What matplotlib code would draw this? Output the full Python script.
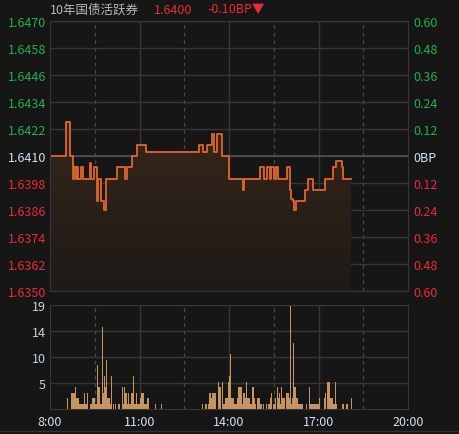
import numpy as np
import matplotlib
matplotlib.use('Agg')
import matplotlib.pyplot as plt
from matplotlib.colors import LinearSegmentedColormap
from matplotlib.lines import Line2D

plt.rcParams['font.family'] = ['Noto Sans CJK SC', 'DejaVu Sans']

# yield of the 10y active bond, minutes after 8:00 where it changes
prev_close = 1.6410
last_price = 1.6400
price_min = [0, 33, 41, 47, 49, 52, 54, 57, 63, 66, 81, 83, 89, 95, 97, 102, 109, 113,
             135, 150, 155, 165, 175, 194, 300, 308, 316, 326, 330, 335, 346, 359, 388,
             391, 423, 431, 437, 442, 445, 451, 455, 459, 477, 482, 485, 488, 491, 494,
             513, 519, 528, 553, 570, 575, 587, 590, 605]
price_yld = [1.6410, 1.6425, 1.6410, 1.6400, 1.6405, 1.6400, 1.6405, 1.6400, 1.6405, 1.6400,
             1.6407, 1.6400, 1.6405, 1.6390, 1.6400, 1.6390, 1.6386, 1.6400, 1.6405, 1.6400,
             1.6405, 1.6410, 1.6415, 1.6412, 1.6415, 1.6412, 1.6415, 1.6420, 1.6412, 1.6420,
             1.6410, 1.6400, 1.6395, 1.6400, 1.6405, 1.6400, 1.6405, 1.6400, 1.6405, 1.6400,
             1.6405, 1.6400, 1.6405, 1.6395, 1.6391, 1.6390, 1.6386, 1.6390, 1.6395, 1.6400,
             1.6395, 1.6400, 1.6405, 1.6408, 1.6405, 1.6400, 1.6400]

# volume runs: first minute, last minute, volume
vol_from = [34, 42, 46, 50, 51, 56, 63, 67, 68, 69, 74, 81, 84, 89, 94, 95, 99, 105, 106, 108,
            109, 113, 114, 119, 123, 126, 131, 136, 144, 146, 148, 151, 155, 156, 157, 163,
            167, 168, 172, 173, 181, 183, 187, 194, 196, 211, 223,
            305, 311, 317, 320, 323, 325, 326, 328, 338, 339, 345, 348, 351, 353, 357, 358,
            361, 362, 363, 369, 373, 377, 378, 385, 389, 390, 394, 395, 400, 402, 404, 407,
            408, 411, 417, 421, 428, 435, 438, 443, 445, 448, 453, 456, 458, 460, 461, 465,
            467, 471, 475, 479, 483, 485, 486, 489, 490, 495, 498, 503, 515, 520, 521, 525,
            530, 535, 540, 551, 553, 557, 563, 567, 573, 575, 588, 596, 605]
vol_to = [34, 44, 49, 50, 55, 60, 63, 67, 68, 73, 74, 83, 88, 93, 94, 98, 104, 105, 107, 108,
          112, 113, 118, 122, 123, 126, 131, 138, 144, 147, 148, 153, 155, 156, 162, 165,
          167, 170, 172, 179, 181, 186, 190, 194, 196, 211, 223,
          305, 313, 317, 322, 324, 325, 327, 332, 338, 341, 345, 349, 351, 356, 357, 360,
          361, 362, 367, 369, 376, 377, 384, 387, 389, 393, 394, 398, 400, 402, 404, 407,
          410, 412, 420, 424, 428, 435, 440, 443, 445, 450, 453, 456, 458, 460, 463, 465,
          470, 471, 478, 481, 483, 485, 488, 489, 493, 497, 501, 506, 515, 520, 523, 528,
          533, 538, 540, 552, 553, 561, 566, 570, 573, 575, 588, 596, 605]
vol_amt = [2, 3, 3, 4, 2, 1, 1, 1, 3, 1, 3, 1, 2, 1, 8, 4, 1, 15, 3, 6,
           4, 9, 2, 1, 6, 1, 1, 1, 4, 1, 4, 3, 1, 3, 1, 3,
           6, 1, 3, 1, 2, 3, 1, 1, 2, 1, 1,
           1, 1, 1, 3, 2, 3, 1, 3, 5, 4, 5, 1, 2, 2, 5, 2,
           6, 10, 2, 1, 1, 2, 4, 1, 3, 2, 5, 2, 2, 1, 1, 4,
           2, 1, 2, 1, 1, 1, 1, 2, 3, 1, 2, 4, 2, 3, 1, 4,
           2, 1, 3, 2, 19, 1, 2, 12, 4, 2, 1, 1, 1, 4, 1, 1,
           1, 1, 2, 2, 3, 5, 2, 1, 5, 1, 1, 1, 2]

yield_ticks = [1.6470, 1.6458, 1.6446, 1.6434, 1.6422, 1.6410,
               1.6398, 1.6386, 1.6374, 1.6362, 1.6350]
bp_labels = ['0.60', '0.48', '0.36', '0.24', '0.12', '0BP',
             '0.12', '0.24', '0.36', '0.48', '0.60']
time_ticks = [0, 180, 360, 540, 720]
time_labels = ['8:00', '11:00', '14:00', '17:00', '20:00']
half_hours = [90, 270, 450, 630]
vol_ticks = [4.75, 9.5, 14.25, 19]
vol_labels = ['5', '10', '14', '19']

BG = '#161616'
GRID = '#363636'
GREEN = '#1fb04a'
RED = '#ea2a36'
LIGHT = '#d2e0ee'
LINE = '#da632b'
FS = 9

fig = plt.figure(figsize=(4.59, 4.35), dpi=100, facecolor=BG)
ax = fig.add_axes([50 / 459, 143 / 435, 358 / 459, 270 / 435])
axv = fig.add_axes([50 / 459, 25 / 435, 358 / 459, 104 / 435])

def label_color(v):
    if abs(v - prev_close) < 1e-6:
        return LIGHT
    return GREEN if v > prev_close else RED

# ---- price panel ----
ax.set_facecolor(BG)
for y in yield_ticks:
    ax.axhline(y, color=GRID, lw=1, zorder=0)
ax.axhline(prev_close, color='#555555', lw=1.1, zorder=0.5)
for t in time_ticks[1:-1]:
    ax.axvline(t, color=GRID, lw=1, zorder=0)
for t in half_hours:
    ax.axvline(t, color='#464646', lw=0.9, ls=(0, (3, 3)), zorder=0)

poly = ax.fill_between(price_min, price_yld, yield_ticks[-1], step='post',
                       facecolor='none', edgecolor='none')
cmap = LinearSegmentedColormap.from_list('fill', ['#1d1a17', '#38261b'])
grad = np.linspace(0, 1, 256).reshape(-1, 1)
im = ax.imshow(grad, cmap=cmap, origin='lower', aspect='auto', zorder=1,
               extent=[0, 720, yield_ticks[-1], max(price_yld)])
im.set_clip_path(poly.get_paths()[0], transform=ax.transData)

ax.plot(price_min, price_yld, drawstyle='steps-post', color=LINE, lw=1.35, zorder=3)

ax.set_xlim(0, 720)
ax.set_ylim(yield_ticks[-1], yield_ticks[0])
ax.set_xticks([])
ax.set_yticks(yield_ticks)
ax.set_yticklabels(['%.4f' % v for v in yield_ticks], fontsize=FS)
for lab, v in zip(ax.get_yticklabels(), yield_ticks):
    lab.set_color(label_color(v))
ax.tick_params(axis='y', length=0, pad=3)

ax2 = ax.twinx()
ax2.set_ylim(yield_ticks[-1], yield_ticks[0])
ax2.set_yticks(yield_ticks)
ax2.set_yticklabels(bp_labels, fontsize=FS)
for lab, v in zip(ax2.get_yticklabels(), yield_ticks):
    lab.set_color(label_color(v))
ax2.tick_params(axis='y', length=0, pad=4)

for a in (ax, ax2):
    for s in a.spines.values():
        s.set_color(GRID)

# ---- volume panel ----
axv.set_facecolor(BG)
for y in vol_ticks:
    axv.axhline(y, color=GRID, lw=1, zorder=0)
for t in time_ticks[1:-1]:
    axv.axvline(t, color=GRID, lw=1, zorder=0)
for t in half_hours:
    axv.axvline(t, color='#464646', lw=0.9, ls=(0, (3, 3)), zorder=0)

widths = [b - a + 2.4 for a, b in zip(vol_from, vol_to)]
axv.bar(vol_from, vol_amt, width=widths, align='edge', color='#c4955e',
        linewidth=0, zorder=2)

axv.set_xlim(0, 720)
axv.set_ylim(0, 19)
axv.set_xticks(time_ticks)
axv.set_xticklabels(time_labels, fontsize=FS, color=LIGHT)
axv.set_yticks(vol_ticks)
axv.set_yticklabels(vol_labels, fontsize=FS, color='#c4d2e0')
axv.tick_params(length=0)
axv.tick_params(axis='x', pad=4)
axv.tick_params(axis='y', pad=3)
for s in axv.spines.values():
    s.set_color(GRID)

# ---- header ----
ty = 1 - 10 / 435
fig.text(50 / 459, ty, '10年国债活跃券', color='#b8b8b8', fontsize=9, va='center')
fig.text(154 / 459, ty, '%.4f' % last_price, color=RED, fontsize=FS, va='center')
chg_bp = (last_price - prev_close) * 100
fig.text(207 / 459, ty, '%.2fBP▼' % chg_bp, color=RED, fontsize=FS, va='center')

fig.add_artist(Line2D([0, 1], [3 / 435, 3 / 435], color='#333333', lw=1))

fig.savefig('out.png', dpi=100, facecolor=BG)
